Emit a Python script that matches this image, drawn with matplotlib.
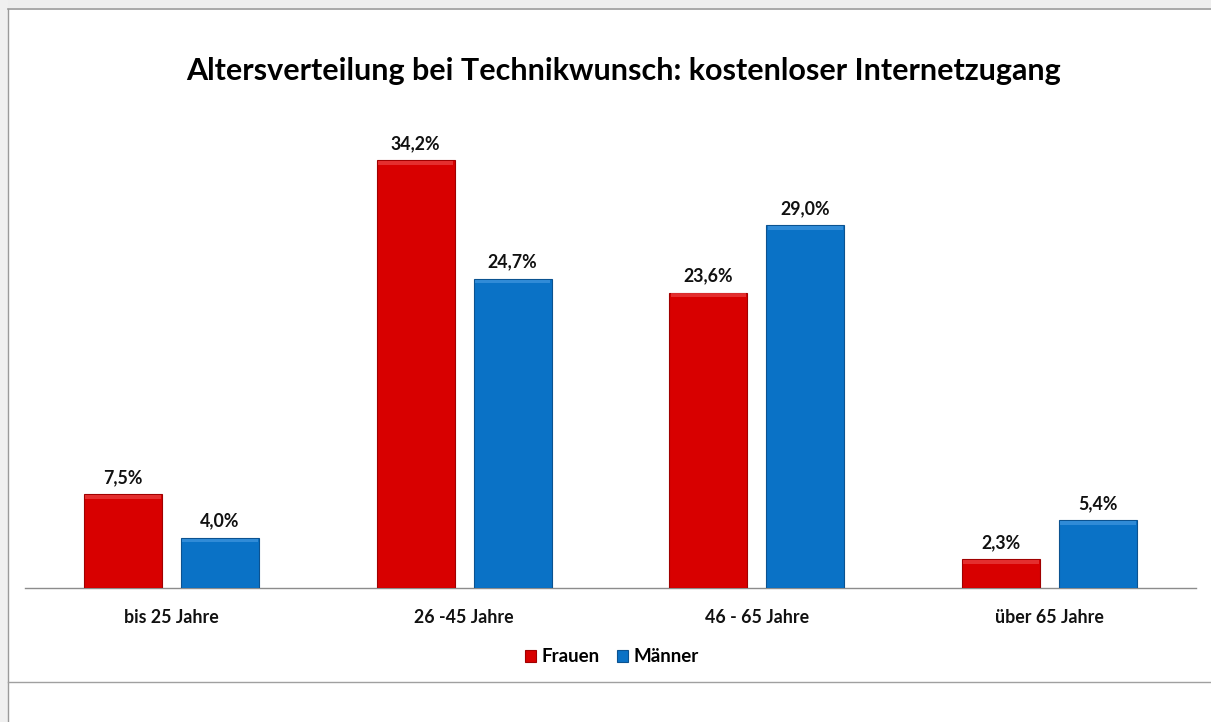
import matplotlib
matplotlib.use("Agg")
import matplotlib.pyplot as plt
from matplotlib.patches import Rectangle
from matplotlib.lines import Line2D
import numpy as np

categories = ["bis 25 Jahre", "26 -45 Jahre", "46 - 65 Jahre", "über 65 Jahre"]
frauen = [7.5, 34.2, 23.6, 2.3]
maenner = [4.0, 24.7, 29.0, 5.4]
series_names = ["Frauen", "Männer"]
title = "Altersverteilung bei Technikwunsch: kostenloser Internetzugang"

RED = "#D80000"
BLUE = "#0A72C6"
FONT = ["Lato", "DejaVu Sans"]

W, H = 1211, 722
fig = plt.figure(figsize=(W / 100, H / 100), dpi=100)
fig.patch.set_facecolor("white")

# outer frame (screenshot-like)
fig.patches.append(Rectangle((0, 1 - 8 / H), 1, 8 / H, transform=fig.transFigure,
                             facecolor="#eeeeee", edgecolor="none", zorder=0))
fig.patches.append(Rectangle((0, 0), 8 / W, 1, transform=fig.transFigure,
                             facecolor="#f0f0f0", edgecolor="none", zorder=0))
fig.lines.append(Line2D([8 / W, 1], [1 - 8.5 / H, 1 - 8.5 / H], transform=fig.transFigure,
                        color="#9a9a9a", lw=1.2))
fig.lines.append(Line2D([8 / W, 8 / W], [0, 1 - 8.5 / H], transform=fig.transFigure,
                        color="#9a9a9a", lw=1.0))
fig.lines.append(Line2D([8 / W, 1], [1 - 682 / H, 1 - 682 / H], transform=fig.transFigure,
                        color="#a0a0a0", lw=1.0))

ymax = 36.0
px_per = 12.51
ax_bottom = 588
ax_top = ax_bottom - ymax * px_per
ax = fig.add_axes([25 / W, 1 - ax_bottom / H, (1196 - 25) / W, (ax_bottom - ax_top) / H])
ax.set_xlim(-0.5, len(categories) - 0.5)
ax.set_ylim(0, ymax)
ax.patch.set_alpha(0)

x = np.arange(len(categories))
bw = 0.266
off = 0.1655

b1 = ax.bar(x - off, frauen, bw, color=RED, edgecolor="#a00000", linewidth=0.8, label=series_names[0], zorder=3)
b2 = ax.bar(x + off, maenner, bw, color=BLUE, edgecolor="#0b5290", linewidth=0.8, label=series_names[1], zorder=3)

# subtle bevel highlight at the top of each bar
bev = 0.3
ax.bar(x - off, [bev] * len(x), bw * 0.97, bottom=np.array(frauen) - bev - 0.05, color="#e83a3a",
       edgecolor="none", zorder=4, alpha=0.8)
ax.bar(x + off, [bev] * len(x), bw * 0.97, bottom=np.array(maenner) - bev - 0.05, color="#3a92dc",
       edgecolor="none", zorder=4, alpha=0.8)

for xs, vals in ((x - off, frauen), (x + off, maenner)):
    for xi, v in zip(xs, vals):
        ax.annotate(f"{v:.1f}%".replace(".", ","), (xi, v), xytext=(0, 6), textcoords="offset points",
                    ha="center", va="bottom", fontsize=12.8, fontweight="bold", family=FONT, color="#111111")

for s in ["top", "right", "left"]:
    ax.spines[s].set_visible(False)
ax.spines["bottom"].set_color("#8c8c8c")
ax.spines["bottom"].set_linewidth(1.0)
ax.set_yticks([])
ax.set_xticks(x)
ax.set_xticklabels(categories, fontsize=12.8, fontweight="bold", family=FONT, color="#111111")
ax.tick_params(axis="x", length=0, pad=15)

fig.text(624 / W, 1 - 71 / H, title, ha="center", va="center", fontsize=22, fontweight="bold",
         family=FONT, color="#000000")

leg = fig.legend(handles=[b1, b2], labels=series_names, loc="center", bbox_to_anchor=(612 / W, 1 - 657 / H),
                 ncol=2, frameon=False, handlelength=0.6, handleheight=0.6, handletextpad=0.3,
                 columnspacing=0.9, prop={"family": FONT, "weight": "bold", "size": 13.5})

fig.savefig("out.png", dpi=100)
